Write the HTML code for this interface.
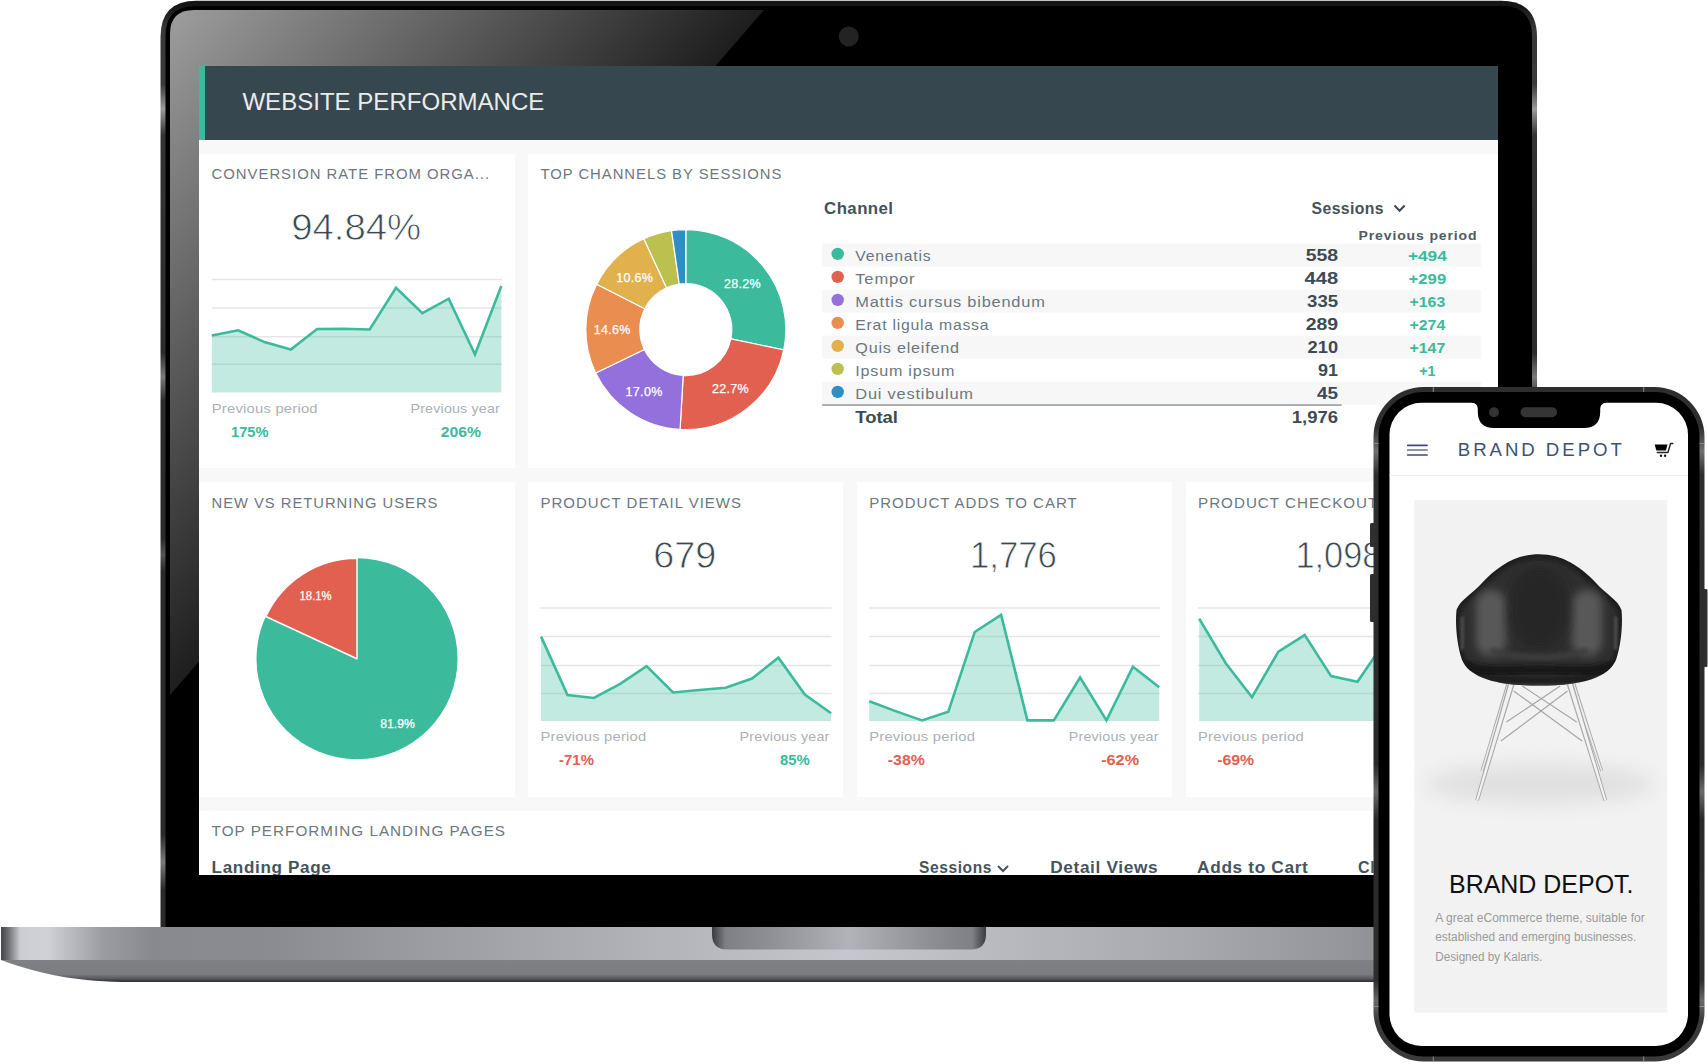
<!DOCTYPE html>
<html><head><meta charset="utf-8">
<style>
html,body{margin:0;padding:0;background:#fff;width:1708px;height:1064px;overflow:hidden}
svg{display:block;font-family:"Liberation Sans",sans-serif}
.ttl{font-size:15px;fill:#6d777f;letter-spacing:1px}
.pp{font-size:13.5px;fill:#abb1b6;letter-spacing:0.2px}
.big{font-size:37.5px;fill:#3a4853;stroke:#fff;stroke-width:0.8px}
.bd{font-weight:bold}
</style></head>
<body>
<svg width="1708" height="1064" viewBox="0 0 1708 1064">
<defs>
  <linearGradient id="gloss" gradientUnits="userSpaceOnUse" x1="170" y1="10" x2="509" y2="304">
    <stop offset="0" stop-color="#9e9e9e"/>
    <stop offset="1" stop-color="#1e1e1e"/>
  </linearGradient>
  <linearGradient id="rimL" gradientUnits="userSpaceOnUse" x1="0" y1="0.8" x2="0" y2="927">
    <stop offset="0" stop-color="#141414"/>
    <stop offset="0.007" stop-color="#161616"/>
    <stop offset="0.03" stop-color="#383838"/>
    <stop offset="0.09" stop-color="#3a3a3a"/>
    <stop offset="0.117" stop-color="#9a9a9a"/>
    <stop offset="0.145" stop-color="#333"/>
    <stop offset="0.38" stop-color="#2c2c2c"/>
    <stop offset="0.406" stop-color="#7a7a7a"/>
    <stop offset="0.432" stop-color="#2c2c2c"/>
    <stop offset="0.58" stop-color="#2a2a2a"/>
    <stop offset="0.598" stop-color="#555"/>
    <stop offset="0.616" stop-color="#2a2a2a"/>
    <stop offset="0.9" stop-color="#2a2a2a"/>
    <stop offset="0.93" stop-color="#7a7a7a"/>
    <stop offset="0.96" stop-color="#2a2a2a"/>
    <stop offset="1" stop-color="#2a2a2a"/>
  </linearGradient>
  <linearGradient id="baseTop" gradientUnits="userSpaceOnUse" x1="0" y1="0" x2="1697" y2="0">
    <stop offset="0" stop-color="#3c3c42"/>
    <stop offset="0.005" stop-color="#6e6f74"/>
    <stop offset="0.012" stop-color="#cdced3"/>
    <stop offset="0.028" stop-color="#d0d1d6"/>
    <stop offset="0.06" stop-color="#9c9da2"/>
    <stop offset="0.09" stop-color="#88898e"/>
    <stop offset="0.16" stop-color="#8b8c91"/>
    <stop offset="0.3" stop-color="#a4a5aa"/>
    <stop offset="0.5" stop-color="#c6c7cc"/>
    <stop offset="0.7" stop-color="#a8a9ae"/>
    <stop offset="0.84" stop-color="#8b8c91"/>
    <stop offset="0.91" stop-color="#88898e"/>
    <stop offset="0.94" stop-color="#9c9da2"/>
    <stop offset="0.972" stop-color="#d0d1d6"/>
    <stop offset="0.988" stop-color="#cdced3"/>
    <stop offset="0.995" stop-color="#6e6f74"/>
    <stop offset="1" stop-color="#3c3c42"/>
  </linearGradient>
  <linearGradient id="baseBot" gradientUnits="userSpaceOnUse" x1="0" y1="960" x2="0" y2="982">
    <stop offset="0" stop-color="#808185"/>
    <stop offset="0.65" stop-color="#7b7c80"/>
    <stop offset="0.85" stop-color="#56575c"/>
    <stop offset="1" stop-color="#2a2a30"/>
  </linearGradient>
  <linearGradient id="notch" gradientUnits="userSpaceOnUse" x1="712" y1="0" x2="986" y2="0">
    <stop offset="0" stop-color="#3a3a40"/>
    <stop offset="0.05" stop-color="#7f8085"/>
    <stop offset="0.2" stop-color="#8d8e93"/>
    <stop offset="0.5" stop-color="#b2b3ba"/>
    <stop offset="0.8" stop-color="#8d8e93"/>
    <stop offset="0.95" stop-color="#7f8085"/>
    <stop offset="1" stop-color="#3a3a40"/>
  </linearGradient>
  <clipPath id="bezelClip"><path d="M170,34 Q170,10 194,10 L1528,10 L1528,927 L170,927 Z"/></clipPath>
  <clipPath id="screenClip"><rect x="199" y="66" width="1299" height="809"/></clipPath>
  <radialGradient id="shadow" cx="0.5" cy="0.5" r="0.5">
    <stop offset="0" stop-color="#d9d9d9"/>
    <stop offset="1" stop-color="#f1f1f1"/>
  </radialGradient>
  <linearGradient id="phRim" x1="0" y1="0" x2="0" y2="1">
    <stop offset="0" stop-color="#2e2e2e"/>
    <stop offset="0.06" stop-color="#2e2e2e"/>
    <stop offset="0.095" stop-color="#707070"/>
    <stop offset="0.13" stop-color="#2e2e2e"/>
    <stop offset="0.56" stop-color="#2a2a2a"/>
    <stop offset="0.60" stop-color="#6a6a6a"/>
    <stop offset="0.64" stop-color="#2a2a2a"/>
    <stop offset="0.88" stop-color="#2e2e2e"/>
    <stop offset="0.91" stop-color="#6a6a6a"/>
    <stop offset="0.94" stop-color="#3a3a3a"/>
    <stop offset="1" stop-color="#3a3a3a"/>
  </linearGradient>
  <filter id="blur8" x="-50%" y="-50%" width="200%" height="200%"><feGaussianBlur stdDeviation="10"/></filter>
  <filter id="blur3" x="-50%" y="-50%" width="200%" height="200%"><feGaussianBlur stdDeviation="3"/></filter>
  <filter id="blur2" x="-50%" y="-50%" width="200%" height="200%"><feGaussianBlur stdDeviation="2"/></filter>
  <filter id="blur4" x="-50%" y="-50%" width="200%" height="200%"><feGaussianBlur stdDeviation="4"/></filter>
  <filter id="blur1" x="-50%" y="-50%" width="200%" height="200%"><feGaussianBlur stdDeviation="1"/></filter>
  <clipPath id="shellClip"><path d="M1539,554.3 C1562,554.3 1580,566 1596,583 C1606,594 1618,600 1621.5,610 C1623,625 1621,645 1616,660 C1608,677 1585,685.6 1539,685.6 C1493,685.6 1470,677 1462,660 C1457,645 1455,625 1456.5,610 C1460,600 1472,594 1482,583 C1498,566 1516,554.3 1539,554.3 Z"/></clipPath>
</defs>

<!-- LAPTOP BODY -->
<path d="M160.5,927 L160.5,37 Q160.5,0.8 196.5,0.8 L1501,0.8 Q1537,0.8 1537,37 L1537,927 Z" fill="url(#rimL)"/>
<path d="M165.5,927 L165.5,36 Q165.5,6 195.5,6 L1502,6 Q1532,6 1532,36 L1532,927 Z" fill="#000"/>
<polygon points="170,10 764,10 170,695" fill="url(#gloss)" clip-path="url(#bezelClip)"/>
<circle cx="848.7" cy="36.5" r="10" fill="#232323"/>

<!-- SCREEN -->
<g clip-path="url(#screenClip)">
<rect x="199" y="66" width="1299" height="809" fill="#f8f8f8"/>
<!-- header -->
<rect x="199" y="66" width="1299" height="74" fill="#37474f"/>
<rect x="199" y="66" width="6" height="74" fill="#3bba9c"/>
<text x="242.4" y="110.3" font-size="24" fill="#e9ecec" textLength="302" lengthAdjust="spacingAndGlyphs">WEBSITE PERFORMANCE</text>

<!-- row1 cards -->
<rect x="199" y="154" width="316" height="314" fill="#fff"/>
<rect x="528" y="154" width="970" height="314" fill="#fff"/>
<!-- row2 -->
<rect x="199" y="482" width="316" height="315" fill="#fff"/>
<rect x="528" y="482" width="315" height="315" fill="#fff"/>
<rect x="857" y="482" width="315" height="315" fill="#fff"/>
<rect x="1186" y="482" width="315" height="315" fill="#fff"/>
<!-- row3 -->
<rect x="199" y="811" width="1299" height="80" fill="#fff"/>

<!-- card titles -->
<text class="ttl" x="211.6" y="178.6" textLength="278.5" lengthAdjust="spacingAndGlyphs">CONVERSION RATE FROM ORGA...</text>
<text class="ttl" x="540.4" y="178.6" textLength="242.0" lengthAdjust="spacingAndGlyphs">TOP CHANNELS BY SESSIONS</text>
<text class="ttl" x="211.5" y="507.5" textLength="226.9" lengthAdjust="spacingAndGlyphs">NEW VS RETURNING USERS</text>
<text class="ttl" x="540.5" y="507.5" textLength="201.5" lengthAdjust="spacingAndGlyphs">PRODUCT DETAIL VIEWS</text>
<text class="ttl" x="869.2" y="507.5" textLength="208.5" lengthAdjust="spacingAndGlyphs">PRODUCT ADDS TO CART</text>
<text class="ttl" x="1198" y="507.5" textLength="191.5" lengthAdjust="spacingAndGlyphs">PRODUCT CHECKOUTS</text>
<text class="ttl" x="211.6" y="836.2" textLength="294.4" lengthAdjust="spacingAndGlyphs">TOP PERFORMING LANDING PAGES</text>

<!-- card1: conversion -->
<text class="big" x="291.2" y="239.5" textLength="130" lengthAdjust="spacingAndGlyphs">94.84%</text>
<g stroke="#e6e6e6" stroke-width="1.5">
<line x1="211.8" y1="279.5" x2="502" y2="279.5"/><line x1="211.8" y1="307.9" x2="502" y2="307.9"/>
<line x1="211.8" y1="336.8" x2="502" y2="336.8"/><line x1="211.8" y1="364.2" x2="502" y2="364.2"/>
</g>
<polygon fill="#3bba9c" fill-opacity="0.31" points="211.8,335.5 238.2,330.3 264.5,342.1 290.8,349.5 317.1,329 343.4,328.7 369.7,329.5 396,287.9 422.4,313.2 448.7,298.7 475,354.5 501.3,286 501.3,392.6 211.8,392.6"/>
<polyline fill="none" stroke="#3bba9c" stroke-width="2.6" stroke-linejoin="miter" points="211.8,335.5 238.2,330.3 264.5,342.1 290.8,349.5 317.1,329 343.4,328.7 369.7,329.5 396,287.9 422.4,313.2 448.7,298.7 475,354.5 501.3,286"/>
<text class="pp" x="211.8" y="413" textLength="106" lengthAdjust="spacingAndGlyphs">Previous period</text>
<text class="pp" x="410.5" y="413" textLength="89.5" lengthAdjust="spacingAndGlyphs">Previous year</text>
<text class="bd" x="231" y="436.6" font-size="14.5" fill="#3bba9c" textLength="37.4" lengthAdjust="spacingAndGlyphs">175%</text>
<text class="bd" x="440.8" y="436.6" font-size="14.5" fill="#3bba9c" textLength="40.2" lengthAdjust="spacingAndGlyphs">206%</text>

<!-- donut -->
<g stroke="#fff" stroke-width="1.2" stroke-linejoin="round">
<path d="M685.80,229.60 A100,100 0 0 1 783.74,349.81 L730.85,338.90 A46,46 0 0 0 685.80,283.60 Z" fill="#3bba9c"/>
<path d="M783.74,349.81 A100,100 0 0 1 680.08,429.44 L683.17,375.52 A46,46 0 0 0 730.85,338.90 Z" fill="#e2604f"/>
<path d="M680.08,429.44 A100,100 0 0 1 595.68,372.95 L644.35,349.54 A46,46 0 0 0 683.17,375.52 Z" fill="#9370db"/>
<path d="M595.68,372.95 A100,100 0 0 1 596.67,284.26 L644.80,308.74 A46,46 0 0 0 644.35,349.54 Z" fill="#ea8d50"/>
<path d="M596.67,284.26 A100,100 0 0 1 643.89,238.81 L666.52,287.83 A46,46 0 0 0 644.80,308.74 Z" fill="#e0b14d"/>
<path d="M643.89,238.81 A100,100 0 0 1 671.54,230.62 L679.24,284.07 A46,46 0 0 0 666.52,287.83 Z" fill="#bcc04e"/>
<path d="M671.54,230.62 A100,100 0 0 1 685.80,229.60 L685.80,283.60 A46,46 0 0 0 679.24,284.07 Z" fill="#2f8ec4"/>
</g>
<g font-size="12.5" fill="#fff" stroke="#fff" stroke-width="0.25" text-anchor="middle" letter-spacing="0.3">
<text x="742.4" y="288.3">28.2%</text>
<text x="730.4" y="392.5">22.7%</text>
<text x="644.1" y="395.5">17.0%</text>
<text x="612.3" y="334">14.6%</text>
<text x="634.8" y="282">10.6%</text>
</g>

<!-- channel table -->
<text class="bd" x="824.1" y="213.5" font-size="16" fill="#44525c" letter-spacing="0.4" textLength="69.3" lengthAdjust="spacingAndGlyphs">Channel</text>
<text class="bd" x="1311.6" y="213.5" font-size="16" fill="#44525c" letter-spacing="0.4" textLength="72.3" lengthAdjust="spacingAndGlyphs">Sessions</text>
<polyline points="1394.5,205.5 1399.6,210.8 1404.7,205.5" fill="none" stroke="#3d4a55" stroke-width="2"/>
<text class="bd" x="1358.6" y="239.8" font-size="13" fill="#4f5b66" letter-spacing="0.8" textLength="118.8" lengthAdjust="spacingAndGlyphs">Previous period</text>
<g fill="#f7f7f7">
<rect x="822.2" y="243.6" width="659.2" height="23"/>
<rect x="822.2" y="289.6" width="659.2" height="23"/>
<rect x="822.2" y="335.6" width="659.2" height="23"/>
<rect x="822.2" y="381.6" width="659.2" height="23"/>
</g>
<rect x="822.2" y="404.4" width="519.4" height="1.3" fill="#80858a"/>
<g>
<circle cx="837.7" cy="253.9" r="6.2" fill="#3bba9c"/>
<circle cx="837.7" cy="276.9" r="6.2" fill="#e2604f"/>
<circle cx="837.7" cy="299.9" r="6.2" fill="#9370db"/>
<circle cx="837.7" cy="322.9" r="6.2" fill="#ea8d50"/>
<circle cx="837.7" cy="345.9" r="6.2" fill="#e0b14d"/>
<circle cx="837.7" cy="368.9" r="6.2" fill="#bcc04e"/>
<circle cx="837.7" cy="391.9" r="6.2" fill="#2f8ec4"/>
</g>
<g font-size="14.5" fill="#6b7780" letter-spacing="0.7">
<text x="855.3" y="260.5" textLength="76" lengthAdjust="spacingAndGlyphs">Venenatis</text>
<text x="855.3" y="283.5" textLength="60" lengthAdjust="spacingAndGlyphs">Tempor</text>
<text x="855.3" y="306.5" textLength="190.3" lengthAdjust="spacingAndGlyphs">Mattis cursus bibendum</text>
<text x="855.3" y="329.5" textLength="134" lengthAdjust="spacingAndGlyphs">Erat ligula massa</text>
<text x="855.3" y="352.5" textLength="104.5" lengthAdjust="spacingAndGlyphs">Quis eleifend</text>
<text x="855.3" y="375.5" textLength="100" lengthAdjust="spacingAndGlyphs">Ipsum ipsum</text>
<text x="855.3" y="398.5" textLength="118.5" lengthAdjust="spacingAndGlyphs">Dui vestibulum</text>
</g>
<g class="bd" font-size="17" fill="#3d4a55" text-anchor="end">
<text x="1338.1" y="260.5" textLength="32.4" lengthAdjust="spacingAndGlyphs">558</text>
<text x="1338.1" y="283.5" textLength="33.6" lengthAdjust="spacingAndGlyphs">448</text>
<text x="1338.1" y="306.5" textLength="31" lengthAdjust="spacingAndGlyphs">335</text>
<text x="1338.1" y="329.5" textLength="32.4" lengthAdjust="spacingAndGlyphs">289</text>
<text x="1338.1" y="352.5" textLength="30.5" lengthAdjust="spacingAndGlyphs">210</text>
<text x="1338.1" y="375.5" textLength="20" lengthAdjust="spacingAndGlyphs">91</text>
<text x="1338.1" y="398.5" textLength="21" lengthAdjust="spacingAndGlyphs">45</text>
<text x="1338.1" y="422.6" textLength="46.3" lengthAdjust="spacingAndGlyphs">1,976</text>
</g>
<text class="bd" x="855.3" y="422.6" font-size="16.5" fill="#3d4a55" textLength="42.7" lengthAdjust="spacingAndGlyphs">Total</text>
<g class="bd" font-size="14" fill="#3bba9c" text-anchor="middle">
<text x="1427.4" y="260.5" textLength="39" lengthAdjust="spacingAndGlyphs">+494</text>
<text x="1427.4" y="283.5" textLength="37.6" lengthAdjust="spacingAndGlyphs">+299</text>
<text x="1427.4" y="306.5" textLength="35.7" lengthAdjust="spacingAndGlyphs">+163</text>
<text x="1427.4" y="329.5" textLength="35.7" lengthAdjust="spacingAndGlyphs">+274</text>
<text x="1427.4" y="352.5" textLength="35.7" lengthAdjust="spacingAndGlyphs">+147</text>
<text x="1427.4" y="375.5" textLength="16.4" lengthAdjust="spacingAndGlyphs">+1</text>
</g>

<!-- pie -->
<circle cx="357" cy="658.7" r="100.5" fill="#3bba9c"/>
<path d="M357,658.7 L357,558.2 A100.5,100.5 0 0 0 265.80,616.48 Z" fill="#e2604f" stroke="#fff" stroke-width="1.5" stroke-linejoin="round"/>
<g font-size="12" fill="#fff" stroke="#fff" stroke-width="0.25">
<text x="299.6" y="599.8" textLength="32" lengthAdjust="spacingAndGlyphs">18.1%</text>
<text x="380.3" y="727.5" textLength="34.5" lengthAdjust="spacingAndGlyphs">81.9%</text>
</g>

<!-- card: detail views -->
<text class="big" x="653.3" y="568.4" textLength="63" lengthAdjust="spacingAndGlyphs">679</text>
<g stroke="#e6e6e6" stroke-width="1.5">
<line x1="540.5" y1="608.1" x2="831.5" y2="608.1"/><line x1="540.5" y1="636.6" x2="831.5" y2="636.6"/>
<line x1="540.5" y1="665.5" x2="831.5" y2="665.5"/><line x1="540.5" y1="693.4" x2="831.5" y2="693.4"/>
<line x1="869.2" y1="608.1" x2="1160.2" y2="608.1"/><line x1="869.2" y1="636.6" x2="1160.2" y2="636.6"/>
<line x1="869.2" y1="665.5" x2="1160.2" y2="665.5"/><line x1="869.2" y1="693.4" x2="1160.2" y2="693.4"/>
<line x1="1198" y1="608.1" x2="1489" y2="608.1"/><line x1="1198" y1="636.6" x2="1489" y2="636.6"/>
<line x1="1198" y1="665.5" x2="1489" y2="665.5"/><line x1="1198" y1="693.4" x2="1489" y2="693.4"/>
</g>
<polygon fill="#3bba9c" fill-opacity="0.31" points="541.1,636.6 567.5,695 593.9,698 620.2,683.8 646.6,666.1 673,692.5 699.3,690 725.7,687.8 752,678.5 778.4,657.7 804.8,694.6 831.1,713.3 831.1,721 541.1,721"/>
<polyline fill="none" stroke="#3bba9c" stroke-width="2.6" points="541.1,636.6 567.5,695 593.9,698 620.2,683.8 646.6,666.1 673,692.5 699.3,690 725.7,687.8 752,678.5 778.4,657.7 804.8,694.6 831.1,713.3"/>
<text class="pp" x="540.5" y="741.2" textLength="106" lengthAdjust="spacingAndGlyphs">Previous period</text>
<text class="pp" x="739.6" y="741.2" textLength="90" lengthAdjust="spacingAndGlyphs">Previous year</text>
<text class="bd" x="559.1" y="765.4" font-size="14.5" fill="#e2604f" textLength="34.8" lengthAdjust="spacingAndGlyphs">-71%</text>
<text class="bd" x="780" y="765.4" font-size="14.5" fill="#3bba9c" textLength="29.7" lengthAdjust="spacingAndGlyphs">85%</text>

<!-- card: adds to cart -->
<text class="big" x="969.9" y="568.4" textLength="87" lengthAdjust="spacingAndGlyphs">1,776</text>
<polygon fill="#3bba9c" fill-opacity="0.31" points="869.2,701.2 895.6,711.1 922,720.4 948.3,711.7 974.7,632 1001.1,614.9 1027.4,720.4 1053.8,720.4 1080.1,677.6 1106.5,720.4 1132.9,666.7 1159.2,687.2 1159.2,721 869.2,721"/>
<polyline fill="none" stroke="#3bba9c" stroke-width="2.6" points="869.2,701.2 895.6,711.1 922,720.4 948.3,711.7 974.7,632 1001.1,614.9 1027.4,720.4 1053.8,720.4 1080.1,677.6 1106.5,720.4 1132.9,666.7 1159.2,687.2"/>
<text class="pp" x="869.2" y="741.2" textLength="106" lengthAdjust="spacingAndGlyphs">Previous period</text>
<text class="pp" x="1068.7" y="741.2" textLength="90" lengthAdjust="spacingAndGlyphs">Previous year</text>
<text class="bd" x="887.8" y="765.4" font-size="14.5" fill="#e2604f" textLength="37" lengthAdjust="spacingAndGlyphs">-38%</text>
<text class="bd" x="1101.2" y="765.4" font-size="14.5" fill="#e2604f" textLength="37.9" lengthAdjust="spacingAndGlyphs">-62%</text>

<!-- card: checkouts -->
<text class="big" x="1295.4" y="568.4" textLength="86" lengthAdjust="spacingAndGlyphs">1,098</text>
<polygon fill="#3bba9c" fill-opacity="0.31" points="1199.2,618.7 1225.6,663 1252,697.2 1278.4,651.6 1304.7,635.1 1331.1,676.1 1357.5,681.7 1383.8,643 1410,620 1410,721 1199.2,721"/>
<polyline fill="none" stroke="#3bba9c" stroke-width="2.6" points="1199.2,618.7 1225.6,663 1252,697.2 1278.4,651.6 1304.7,635.1 1331.1,676.1 1357.5,681.7 1383.8,643 1410,620"/>
<text class="pp" x="1198" y="741.2" textLength="106" lengthAdjust="spacingAndGlyphs">Previous period</text>
<text class="bd" x="1217.2" y="765.4" font-size="14.5" fill="#e2604f" textLength="37" lengthAdjust="spacingAndGlyphs">-69%</text>

<!-- landing pages -->
<g class="bd" font-size="16" fill="#46545e" letter-spacing="0.6">
<text x="211.6" y="873.3" textLength="119.8" lengthAdjust="spacingAndGlyphs">Landing Page</text>
<text x="919" y="873.3" textLength="73" lengthAdjust="spacingAndGlyphs">Sessions</text>
<text x="1050.2" y="873.3" textLength="108" lengthAdjust="spacingAndGlyphs">Detail Views</text>
<text x="1197.1" y="873.3" textLength="111.3" lengthAdjust="spacingAndGlyphs">Adds to Cart</text>
<text x="1358.1" y="873.3">Clicks</text>
</g>
<polyline points="998,866 1003,871 1008,866" fill="none" stroke="#46545e" stroke-width="2"/>

</g>

<!-- BASE -->
<rect x="1" y="927" width="1696" height="33" fill="url(#baseTop)"/>
<path d="M1,960 L1697,960 C1657,975 1617,982 1567,982 L131,982 C81,982 41,975 1,960 Z" fill="url(#baseBot)"/>
<path d="M712,927 L986,927 L986,934 Q986,949.5 971,949.5 L727,949.5 Q712,949.5 712,934 Z" fill="url(#notch)"/>

<!-- PHONE -->
<!-- phone side buttons -->
<rect x="1370" y="523" width="5" height="24" rx="1.5" fill="#2e2e2e"/>
<rect x="1370" y="574" width="5" height="48" rx="1.5" fill="#2e2e2e"/>
<rect x="1703" y="589" width="4.5" height="78" rx="1.5" fill="#2e2e2e"/>
<!-- phone body -->
<rect x="1373.5" y="387" width="331" height="674.5" rx="50" fill="url(#phRim)"/>
<rect x="1378.5" y="392" width="321" height="664.5" rx="45" fill="#000"/>
<g fill="#8a8a8a"><rect x="1432.8" y="387" width="1" height="5"/><rect x="1643.2" y="387" width="1" height="5"/>
<rect x="1432.8" y="1056.5" width="1" height="5"/><rect x="1643.2" y="1056.5" width="1" height="5"/>
<rect x="1373.5" y="443" width="5" height="1"/><rect x="1699.5" y="443" width="5" height="1"/>
<rect x="1373.5" y="1006" width="5" height="1"/><rect x="1699.5" y="1006" width="5" height="1"/></g>
<rect x="1389.5" y="402.8" width="298.5" height="643.2" rx="32" fill="#fff"/>
<path d="M1472,400 L1472,402.8 Q1477.5,403 1477.8,409 L1477.8,412 Q1478,428 1494,428 L1584,428 Q1600,428 1600.2,412 L1600.2,409 Q1600.5,403 1606,402.8 L1606,400 Z" fill="#000"/>
<circle cx="1494" cy="412.3" r="5" fill="#333"/>
<rect x="1520.5" y="407.3" width="36.5" height="10" rx="5" fill="#353535"/>
<!-- header -->
<g stroke="#3e4a7a" stroke-width="1.7" stroke-linecap="round">
<line x1="1407.7" y1="445.3" x2="1427" y2="445.3"/>
<line x1="1407.7" y1="450" x2="1427" y2="450" stroke="#6b7186"/>
<line x1="1407.7" y1="455" x2="1427" y2="455"/>
</g>
<text x="1457.8" y="456.3" font-size="19" fill="#3d5272" letter-spacing="3" textLength="167" lengthAdjust="spacingAndGlyphs">BRAND DEPOT</text>
<!-- cart -->
<path d="M1654.6,444.6 L1667.4,444.6 L1666,450.6 L1656.4,450.6 Z" fill="#000"/>
<path d="M1657.4,452.6 L1667.9,452.6 L1670.6,443.4 L1672.8,443.4" fill="none" stroke="#222" stroke-width="1.5" stroke-linejoin="round" stroke-linecap="round"/>
<circle cx="1661" cy="455.7" r="1.2" fill="#111"/>
<circle cx="1665.1" cy="455.7" r="1.2" fill="#111"/>
<rect x="1389.5" y="475" width="298.5" height="1" fill="#efefef"/>
<!-- product -->
<rect x="1414.4" y="500.2" width="252.9" height="512.4" fill="#f2f2f2"/>
<ellipse cx="1540" cy="784" rx="115" ry="20" fill="#e0e0e0" filter="url(#blur8)"/>
<!-- legs -->
<g>
<polygon points="1506.41,683.26 1480.57,770.56 1483.43,771.44 1511.19,684.74" fill="#ababab"/>
<polygon points="1507.46,683.59 1481.33,770.79 1482.67,771.21 1510.14,684.41" fill="#ececec"/>
<polygon points="1570.63,684.78 1600.28,771.47 1603.12,770.53 1575.37,683.22" fill="#ababab"/>
<polygon points="1571.67,684.44 1601.04,771.22 1602.36,770.78 1574.33,683.56" fill="#ececec"/>
<g stroke="#a6a6a6" stroke-width="1.2">
<line x1="1513.7" y1="691" x2="1582.1" y2="741"/>
<line x1="1567.5" y1="691" x2="1500.9" y2="741"/>
<line x1="1522.3" y1="686" x2="1576.6" y2="722"/>
<line x1="1560.2" y1="686" x2="1506.4" y2="722"/>
</g>
<polygon points="1508.18,683.08 1475.28,799.76 1478.92,800.84 1514.42,684.92" fill="#a8a8a8"/>
<polygon points="1509.38,683.44 1476.14,800.02 1478.06,800.58 1513.22,684.56" fill="#f2f2f2"/>
<polygon points="1566.89,684.94 1603.48,800.85 1607.12,799.75 1573.11,683.06" fill="#a8a8a8"/>
<polygon points="1568.09,684.58 1604.34,800.59 1606.26,800.01 1571.91,683.42" fill="#f2f2f2"/>
</g>
<!-- shell -->
<path d="M1539,554.3 C1562,554.3 1580,566 1596,583 C1606,594 1618,600 1621.5,610 C1623,625 1621,645 1616,660 C1608,677 1585,685.6 1539,685.6 C1493,685.6 1470,677 1462,660 C1457,645 1455,625 1456.5,610 C1460,600 1472,594 1482,583 C1498,566 1516,554.3 1539,554.3 Z" fill="#1f1f1f"/>
<g clip-path="url(#shellClip)">
<path d="M1539,559 C1560,559 1577,570 1592,586 C1603,597 1614,603 1617,612 C1619,628 1617,646 1612,658 C1604,672 1582,676 1539,676 C1496,676 1474,672 1466,658 C1461,646 1459,628 1461,612 C1464,603 1475,597 1486,586 C1501,570 1518,559 1539,559 Z" fill="#2e2e2e" filter="url(#blur2)"/>
<rect x="1476" y="590" width="30" height="66" rx="14" fill="#585858" filter="url(#blur4)"/>
<rect x="1572" y="590" width="30" height="66" rx="14" fill="#585858" filter="url(#blur4)"/>
<ellipse cx="1539" cy="608" rx="30" ry="42" fill="#282828" filter="url(#blur4)"/>
<path d="M1490,650 C1505,656 1520,657 1539,657 C1558,657 1573,656 1588,650" fill="none" stroke="#3c3c3c" stroke-width="6" filter="url(#blur2)"/>
<path d="M1465,664 C1480,674 1505,670 1539,670 C1573,670 1598,674 1613,664" fill="none" stroke="#191919" stroke-width="9" filter="url(#blur2)"/>
<rect x="1460.5" y="616" width="3.5" height="34" rx="1.7" fill="#484848" filter="url(#blur1)"/>
<rect x="1614" y="616" width="3.5" height="34" rx="1.7" fill="#484848" filter="url(#blur1)"/>
<path d="M1466,678 C1485,686 1510,685 1539,685 C1568,685 1593,686 1612,678" fill="none" stroke="#383838" stroke-width="3" filter="url(#blur1)"/>
</g>
<!-- text -->
<text x="1449" y="892.6" font-size="26.5" fill="#111" textLength="184.5" lengthAdjust="spacingAndGlyphs">BRAND DEPOT.</text>
<g font-size="12" fill="#9a9a9a">
<text x="1435.3" y="922" textLength="209.4" lengthAdjust="spacingAndGlyphs">A great eCommerce theme, suitable for</text>
<text x="1435.3" y="940.9" textLength="201" lengthAdjust="spacingAndGlyphs">established and emerging businesses.</text>
<text x="1435.3" y="960.6" textLength="107" lengthAdjust="spacingAndGlyphs">Designed by Kalaris.</text>
</g>

</svg>
</body></html>
